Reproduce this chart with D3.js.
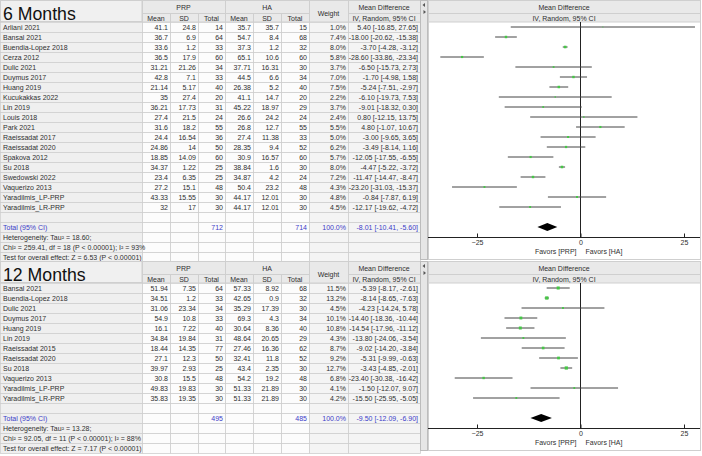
<!DOCTYPE html>
<html>
<head>
<meta charset="utf-8">
<script src="https://cdnjs.cloudflare.com/ajax/libs/d3/7.8.5/d3.min.js"></script>
<style>
body { margin: 0; background: #fff; }
svg { display: block; font-family: "Liberation Sans", Arial, sans-serif; }
</style>
</head>
<body>
<div id="chart"></div>
<script>
// ---------- 6 months ----------
var names6 = ['Arliani 2021','Bansal 2021','Buendia-Lopez 2018','Cerza 2012','Dulic 2021','Duymus 2017','Huang 2019',
  'Kucukakkas 2022','Lin 2019','Louis 2018','Park 2021','Raeissadat 2017','Raeissadat 2020','Spakova 2012','Su 2018',
  'Swedowski 2022','Vaquerizo 2013','Yaradilmis_LP-PRP','Yaradilmis_LR-PRP'];
var prpMean6 = [41.1,36.7,33.6,36.5,31.21,42.8,21.14,35,36.21,27.4,31.6,24.4,24.86,18.85,34.37,23.4,27.2,43.33,32];
var prpSD6   = [24.8,6.9,1.2,17.9,21.26,7.1,5.17,27.4,17.73,21.5,18.2,16.54,14,14.09,1.22,6.35,15.1,15.55,17];
var prpN6    = [14,64,33,60,34,33,40,20,31,24,55,36,50,60,25,25,48,30,30];
var haMean6  = [35.7,54.7,37.3,65.1,37.71,44.5,26.38,41.1,45.22,26.6,26.8,27.4,28.35,30.9,38.84,34.87,50.4,44.17,44.17];
var haSD6    = [35.7,8.4,1.2,10.6,16.31,6.6,5.2,14.7,18.97,24.2,12.7,11.38,9.4,16.57,1.6,4.2,23.2,12.01,12.01];
var haN6     = [15,68,32,60,30,34,40,20,29,24,55,33,52,60,30,24,48,30,30];
var weight6  = [1.0,7.4,8.0,5.8,3.7,7.0,7.5,2.2,3.7,2.4,5.5,5.0,6.2,5.7,8.0,7.2,4.3,4.8,4.5];
var md6      = [5.40,-18.00,-3.70,-28.60,-6.50,-1.70,-5.24,-6.10,-9.01,0.80,4.80,-3.00,-3.49,-12.05,-4.47,-11.47,-23.20,-0.84,-12.17];
var lo6      = [-16.85,-20.62,-4.28,-33.86,-15.73,-4.98,-7.51,-19.73,-18.32,-12.15,-1.07,-9.65,-8.14,-17.55,-5.22,-14.47,-31.03,-7.87,-19.62];
var hi6      = [27.65,-15.38,-3.12,-23.34,2.73,1.58,-2.97,7.53,0.30,13.75,10.67,3.65,1.16,-6.55,-3.72,-8.47,-15.37,6.19,-4.72];
var total6   = {prpN: 712, haN: 714, md: -8.01, lo: -10.41, hi: -5.60};
var notes6   = ['Heterogeneity: Tau\u00b2 = 18.60;', 'Chi\u00b2 = 259.41, df = 18 (P < 0.00001); I\u00b2 = 93%',
  'Test for overall effect: Z = 6.53 (P < 0.00001)'];

// ---------- 12 months ----------
var names12 = ['Bansal 2021','Buendia-Lopez 2018','Dulic 2021','Duymus 2017','Huang 2019','Lin 2019','Raeissadat 2015',
  'Raeissadat 2020','Su 2018','Vaquerizo 2013','Yaradilmis_LP-PRP','Yaradilmis_LR-PRP'];
var prpMean12 = [51.94,34.51,31.06,54.9,16.1,34.84,18.44,27.1,39.97,30.8,49.83,35.83];
var prpSD12   = [7.35,1.2,23.34,10.8,7.22,19.84,14.35,12.3,2.93,15.5,19.83,19.35];
var prpN12    = [64,33,34,33,40,31,77,50,25,48,30,30];
var haMean12  = [57.33,42.65,35.29,69.3,30.64,48.64,27.46,32.41,43.4,54.2,51.33,51.33];
var haSD12    = [8.92,0.9,17.39,4.3,8.36,20.65,16.36,11.8,2.35,19.2,21.89,21.89];
var haN12     = [68,32,30,34,40,29,62,52,30,48,30,30];
var weight12  = [11.5,13.2,4.5,10.1,10.8,4.3,8.7,9.2,12.7,6.8,4.1,4.2];
var md12      = [-5.39,-8.14,-4.23,-14.40,-14.54,-13.80,-9.02,-5.31,-3.43,-23.40,-1.50,-15.50];
var lo12      = [-8.17,-8.65,-14.24,-18.36,-17.96,-24.06,-14.20,-9.99,-4.85,-30.38,-12.07,-25.95];
var hi12      = [-2.61,-7.63,5.78,-10.44,-11.12,-3.54,-3.84,-0.63,-2.01,-16.42,9.07,-5.05];
var total12   = {prpN: 495, haN: 485, md: -9.50, lo: -12.09, hi: -6.90};
var notes12   = ['Heterogeneity: Tau\u00b2 = 13.28;', 'Chi\u00b2 = 92.05, df = 11 (P < 0.00001); I\u00b2 = 88%',
  'Test for overall effect: Z = 7.17 (P < 0.00001)'];

var xTicks = [-25, 0, 25];

//========================================
var W = 702, H = 456;
var cols = [0, 142, 170, 198, 225, 253, 281, 309, 348, 420];
var rowH = 10;
var plotL = 428, plotR = 700;
var txt = '#2f2f2f', blue = '#3c3cc8', grid = '#cfcfcf';

var x = d3.scaleLinear().domain([-25, 25]).range([477, 684]);

var svg = d3.select('#chart').append('svg')
  .attr('width', W)
  .attr('height', H);

function fmt(v) { return v.toFixed(2); }
function ci(md, lo, hi) { return fmt(md) + ' [' + fmt(lo) + ', ' + fmt(hi) + ']'; }

function drawPanel(top, title, p) {
  var g = svg.append('g');
  var n = p.names.length;
  var y0 = top + 22;
  var nRows = n + 5;
  var rowTop = function (i) { return y0 + i * rowH; };

  // header cells
  g.append('rect').attr('x', 0.5).attr('y', top + 0.5).attr('width', cols[1] - 0.5).attr('height', 21)
    .attr('fill', '#f0f0f0').attr('stroke', grid);
  [[1, 4], [4, 7]].forEach(function (s) {
    g.append('rect').attr('x', cols[s[0]] + 0.5).attr('y', top + 0.5)
      .attr('width', cols[s[1]] - cols[s[0]]).attr('height', 13)
      .attr('fill', '#e9e9e9').attr('stroke', grid);
  });
  for (var c = 1; c < 7; c++) {
    g.append('rect').attr('x', cols[c] + 0.5).attr('y', top + 13.5)
      .attr('width', cols[c + 1] - cols[c]).attr('height', 8.5)
      .attr('fill', '#e9e9e9').attr('stroke', grid);
  }
  g.append('rect').attr('x', cols[7] + 0.5).attr('y', top + 0.5).attr('width', cols[8] - cols[7]).attr('height', 21.5)
    .attr('fill', '#e9e9e9').attr('stroke', grid);
  g.append('rect').attr('x', cols[8] + 0.5).attr('y', top + 0.5).attr('width', cols[9] - cols[8]).attr('height', 13)
    .attr('fill', '#e9e9e9').attr('stroke', grid);
  g.append('rect').attr('x', cols[8] + 0.5).attr('y', top + 13.5).attr('width', cols[9] - cols[8]).attr('height', 8.5)
    .attr('fill', '#e9e9e9').attr('stroke', grid);

  g.append('text').attr('x', 3).attr('y', top + 20).attr('font-size', 17.7).attr('fill', '#111').text(title);
  var hdr = [['PRP', (cols[1] + cols[4]) / 2, top + 9.8], ['HA', (cols[4] + cols[7]) / 2, top + 9.8],
    ['Weight', (cols[7] + cols[8]) / 2, top + 16], ['Mean Difference', (cols[8] + cols[9]) / 2, top + 9.8],
    ['IV, Random, 95% CI', (cols[8] + cols[9]) / 2, top + 20.8]];
  ['Mean', 'SD', 'Total', 'Mean', 'SD', 'Total'].forEach(function (t, i) {
    hdr.push([t, (cols[i + 1] + cols[i + 2]) / 2, top + 20.8]);
  });
  g.selectAll('.hdr').data(hdr).enter().append('text')
    .attr('x', d => d[1]).attr('y', d => d[2])
    .attr('text-anchor', 'middle').attr('font-size', 7).attr('fill', txt)
    .text(d => d[0]);

  // body cells
  for (var r = 0; r < nRows; r++) {
    for (var c2 = 0; c2 < 9; c2++) {
      g.append('rect').attr('x', cols[c2] + 0.5).attr('y', rowTop(r) + 0.5)
        .attr('width', cols[c2 + 1] - cols[c2]).attr('height', rowH)
        .attr('fill', c2 === 0 ? '#efefef' : (c2 >= 7 ? '#f4f4f4' : '#fcfcfc'))
        .attr('stroke', grid).attr('stroke-width', 0.8);
    }
  }

  // study rows
  var rows = p.names.map(function (nm, i) {
    return [nm, p.prpMean[i], p.prpSD[i], p.prpN[i], p.haMean[i], p.haSD[i], p.haN[i],
      p.weight[i].toFixed(1) + '%', ci(p.md[i], p.lo[i], p.hi[i])];
  });
  rows.forEach(function (row, i) {
    row.forEach(function (v, c) {
      g.append('text')
        .attr('x', c === 0 ? 3 : cols[c + 1] - 2)
        .attr('y', rowTop(i) + 7.6)
        .attr('text-anchor', c === 0 ? 'start' : 'end')
        .attr('font-size', 7).attr('fill', txt)
        .text(v);
    });
  });

  // total row
  var tr = n + 1;
  var tot = [['Total (95% CI)', 0], [p.total.prpN, 3], [p.total.haN, 6], ['100.0%', 7],
    [ci(p.total.md, p.total.lo, p.total.hi), 8]];
  tot.forEach(function (d) {
    g.append('text')
      .attr('x', d[1] === 0 ? 3 : cols[d[1] + 1] - 2)
      .attr('y', rowTop(tr) + 7.6)
      .attr('text-anchor', d[1] === 0 ? 'start' : 'end')
      .attr('font-size', 7).attr('fill', blue)
      .text(d[0]);
  });
  p.notes.forEach(function (t, i) {
    g.append('text').attr('x', 3).attr('y', rowTop(tr + 1 + i) + 7.6)
      .attr('font-size', 7).attr('fill', txt).text(t);
  });

  // splitter strip
  var panelB = rowTop(nRows) - 3;
  g.append('rect').attr('x', 420.5).attr('y', top + 0.5).attr('width', 7).attr('height', panelB - top)
    .attr('fill', '#e6e6e6').attr('stroke', '#bcbcbc');
  g.append('path').attr('d', 'M425,' + (top + 3) + 'L422.5,' + (top + 5) + 'L425,' + (top + 7) + 'Z').attr('fill', '#555');
  g.append('path').attr('d', 'M423.5,' + (top + 10) + 'L426,' + (top + 12) + 'L423.5,' + (top + 14) + 'Z').attr('fill', '#555');

  // plot panel
  g.append('rect').attr('x', plotL + 0.5).attr('y', top + 0.5).attr('width', plotR - plotL).attr('height', panelB - top)
    .attr('fill', '#fff').attr('stroke', grid);
  g.append('rect').attr('x', plotL + 0.5).attr('y', top + 0.5).attr('width', plotR - plotL).attr('height', 13)
    .attr('fill', '#e9e9e9').attr('stroke', grid);
  g.append('rect').attr('x', plotL + 0.5).attr('y', top + 13.5).attr('width', plotR - plotL).attr('height', 8.5)
    .attr('fill', '#e9e9e9').attr('stroke', grid);
  g.append('text').attr('x', (plotL + plotR) / 2).attr('y', top + 9.8).attr('text-anchor', 'middle')
    .attr('font-size', 7).attr('fill', txt).text('Mean Difference');
  g.append('text').attr('x', (plotL + plotR) / 2).attr('y', top + 20.8).attr('text-anchor', 'middle')
    .attr('font-size', 7).attr('fill', txt).text('IV, Random, 95% CI');

  var axisY = rowTop(tr) + 5 + 10.5;
  var mid = function (i) { return rowTop(i) + 5; };

  // zero line
  g.append('line').attr('x1', x(0)).attr('x2', x(0)).attr('y1', y0).attr('y2', axisY)
    .attr('stroke', '#222').attr('stroke-width', 1);

  // CI lines + squares
  g.selectAll('.ci').data(p.names).enter().append('line')
    .attr('x1', (d, i) => x(p.lo[i])).attr('x2', (d, i) => x(p.hi[i]))
    .attr('y1', (d, i) => mid(i)).attr('y2', (d, i) => mid(i))
    .attr('stroke', '#444').attr('stroke-width', 1);
  var half = function (i) { return 0.45 * Math.sqrt(p.weight[i]); };
  g.selectAll('.pt').data(p.names).enter().append('rect')
    .attr('x', (d, i) => x(p.md[i]) - half(i))
    .attr('y', (d, i) => mid(i) - half(i))
    .attr('width', (d, i) => 2 * half(i))
    .attr('height', (d, i) => 2 * half(i))
    .attr('fill', '#46c646');

  // diamond
  var cy = mid(tr);
  g.append('path')
    .attr('d', 'M' + x(p.total.lo) + ',' + cy + 'L' + x(p.total.md) + ',' + (cy - 4) +
      'L' + x(p.total.hi) + ',' + cy + 'L' + x(p.total.md) + ',' + (cy + 4) + 'Z')
    .attr('fill', '#000');

  // axis
  g.append('line').attr('x1', plotL).attr('x2', plotR).attr('y1', axisY).attr('y2', axisY)
    .attr('stroke', '#222');
  var ax = g.append('g').attr('transform', 'translate(0,' + axisY + ')')
    .call(d3.axisBottom(x).tickValues(xTicks).tickSize(-4).tickPadding(2.5).tickFormat(d3.format('d')));
  ax.select('.domain').remove();
  ax.selectAll('line').attr('stroke', '#222');
  ax.selectAll('text').attr('font-size', 7).attr('fill', txt).attr('font-family', '"Liberation Sans", Arial, sans-serif');

  g.append('text').attr('x', x(0) - 4).attr('y', axisY + 16).attr('text-anchor', 'end')
    .attr('font-size', 7).attr('fill', txt).text('Favors [PRP]');
  g.append('text').attr('x', x(0) + 5).attr('y', axisY + 16).attr('text-anchor', 'start')
    .attr('font-size', 7).attr('fill', txt).text('Favors [HA]');
}

drawPanel(0, '6 Months', {
  names: names6, prpMean: prpMean6, prpSD: prpSD6, prpN: prpN6, haMean: haMean6, haSD: haSD6, haN: haN6,
  weight: weight6, md: md6, lo: lo6, hi: hi6, total: total6, notes: notes6
});
drawPanel(261, '12 Months', {
  names: names12, prpMean: prpMean12, prpSD: prpSD12, prpN: prpN12, haMean: haMean12, haSD: haSD12, haN: haN12,
  weight: weight12, md: md12, lo: lo12, hi: hi12, total: total12, notes: notes12
});
</script>
</body>
</html>
